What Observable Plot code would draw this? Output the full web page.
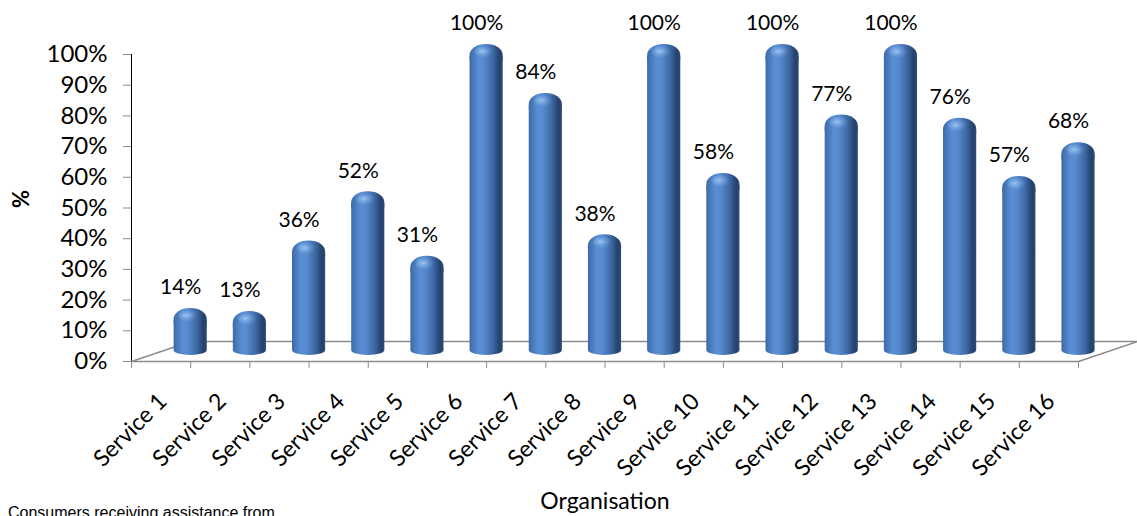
<!DOCTYPE html>
<html><head><meta charset="utf-8">
<script src="https://cdn.jsdelivr.net/npm/d3@7"></script>
<script src="https://cdn.jsdelivr.net/npm/@observablehq/plot@0.6"></script>
<style>
body{margin:0;background:#fff;}
#wrap{position:relative;width:1137px;height:516px;overflow:hidden;}
#caption{position:absolute;left:8px;top:504px;font:16px "Liberation Sans",Arial,sans-serif;color:#000;white-space:nowrap;}
#chart svg g[aria-label^="y-axis"] line, #chart svg g[aria-label^="y-axis"] path,
#chart svg g[aria-label^="x-axis"] line, #chart svg g[aria-label^="x-axis"] path{stroke:#8c8c8c;}
#chart svg g[aria-label^="y-axis"] text{font-size:24px;fill:#000;}
</style></head><body>
<div id="wrap"><div id="chart"></div><div id="caption">Consumers receiving assistance from</div></div>
<script>
const categories = ["Service 1","Service 2","Service 3","Service 4","Service 5","Service 6","Service 7","Service 8",
  "Service 9","Service 10","Service 11","Service 12","Service 13","Service 14","Service 15","Service 16"];
const values = [0.14,0.13,0.36,0.52,0.31,1.00,0.84,0.38,1.00,0.58,1.00,0.77,1.00,0.76,0.57,0.68];
const yTicks = [0,0.1,0.2,0.3,0.4,0.5,0.6,0.7,0.8,0.9,1.0];
const xLabel = "Organisation";
const yLabel = "%";

const W = 1137, H = 516, mL = 131, mR = 59, mT = 54, mB = 155;
const depthX = 59.2, depthY = 20;
const n = categories.length;
const plotH = H - mT - mB;
const unitX = (W - mL - mR) / n;
const dU = depthX / unitX, dV = depthY / plotH;
const data = categories.map((c, i) => ({c, i, v: values[i]}));
const floor = [{x:0,y:0},{x:n,y:0},{x:n+dU,y:dV},{x:dU,y:dV},{x:0,y:0}];
const xTicks = d3.range(n + 1);
const halfW = 0.28;
const pct = d3.format(".0%");

const chart = Plot.plot({
  width: W, height: H, marginLeft: mL, marginRight: mR, marginTop: mT, marginBottom: mB,
  style: {fontFamily: "Lato, sans-serif", fontSize: "24px", background: "white", color: "#000", overflow: "visible"},
  x: {domain: [0, n], ticks: xTicks, tickFormat: () => "", tickSize: 7, label: null},
  y: {domain: [0, 1], ticks: yTicks, tickFormat: pct, tickSize: 8, tickPadding: 16, label: null, line: true},
  marks: [
    Plot.line(floor, {x: "x", y: "y", stroke: "#8c8c8c", strokeWidth: 1.5}),
    Plot.rectY(data, {x1: d => d.i + 0.5 - halfW, x2: d => d.i + 0.5 + halfW, y1: 0, y2: "v",
      dx: depthX / 2, dy: -depthY / 2, insetTop: 8, insetBottom: -4, rx: 16, ry: 5, fill: "url(#cyl)"}),
    Plot.rectY(data, {x1: d => d.i + 0.5 - halfW, x2: d => d.i + 0.5 + halfW, y1: "v", y2: "v",
      dx: depthX / 2, dy: -depthY / 2, insetBottom: -26, rx: 16, ry: 11, fill: "url(#cyl)"}),
    Plot.rectY(data, {x1: d => d.i + 0.5 - halfW, x2: d => d.i + 0.5 + halfW, y1: "v", y2: "v",
      dx: depthX / 2, dy: -depthY / 2, insetTop: 2, insetBottom: -14, insetLeft: 5, insetRight: 9, rx: 10, ry: 7, fill: "url(#hl)"}),
    Plot.text(data, {x: d => d.i + 0.5, y: "v", text: d => pct(d.v), dx: depthX / 2 - 10, dy: -31, fontSize: 21, fill: "#000"}),
    Plot.text(data, {x: d => d.i + 0.5, y: 0, text: "c", rotate: -45, textAnchor: "end", dx: 2, dy: 36, fontSize: 23, fill: "#000"}),
    Plot.text([xLabel], {frameAnchor: "bottom", dy: 147, fontSize: 23, fill: "#000"}),
    Plot.text([yLabel], {frameAnchor: "left", dx: -110, rotate: -90, fontSize: 22, fontWeight: "bold", fill: "#000"})
  ]
});

const defs = document.createElementNS("http://www.w3.org/2000/svg", "defs");
defs.innerHTML = `
<linearGradient id="cyl" x1="0" x2="1" y1="0" y2="0">
  <stop offset="0" stop-color="#3d6aa6"/>
  <stop offset="0.28" stop-color="#5a8fd5"/>
  <stop offset="0.45" stop-color="#5688cc"/>
  <stop offset="0.72" stop-color="#3b659f"/>
  <stop offset="0.9" stop-color="#24416b"/>
  <stop offset="1" stop-color="#2c4c7a"/>
</linearGradient>
<radialGradient id="hl" cx="0.4" cy="0.45" r="0.6">
  <stop offset="0" stop-color="#a9cdf5" stop-opacity="0.85"/>
  <stop offset="0.6" stop-color="#80b0ea" stop-opacity="0.35"/>
  <stop offset="1" stop-color="#6a9de0" stop-opacity="0"/>
</radialGradient>`;
chart.insertBefore(defs, chart.firstChild);
document.getElementById("chart").appendChild(chart);
</script>
</body></html>
